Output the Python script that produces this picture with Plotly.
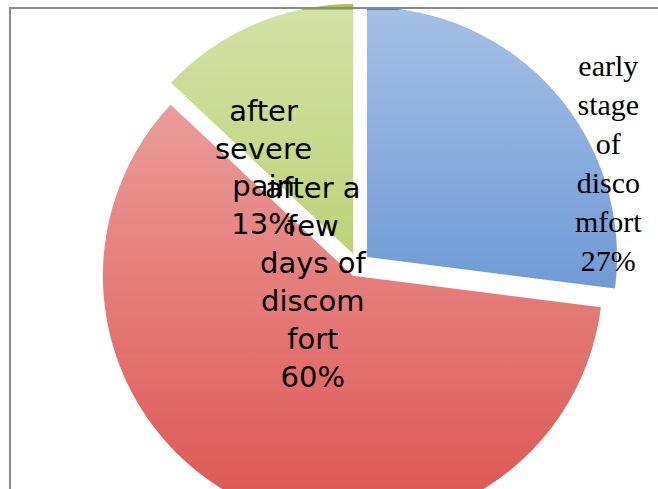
import base64
import plotly.graph_objects as go

# ---- data ----
labels = ["early stage of discomfort", "after a few days of discomfort", "after severe pain"]
values = [27, 60, 13]
label_lines = [["early", "stage", "of", "disco", "mfort"],
               ["after a", "few", "days of", "discom", "fort"],
               ["after", "severe", "pain"]]
colors = ["#4a80cc", "#de5a56", "#a8c44c"]

# ---- layout geometry (page pixels) ----
W, H, VIEW_H = 658, 530, 489
box_l, box_r = 96, 620

fig = go.Figure(go.Pie(
    labels=labels, values=values, sort=False, direction="clockwise", rotation=0,
    pull=[0.048] * len(values),
    marker=dict(colors=colors, line=dict(width=0)),
    textinfo="none", hoverinfo="skip",
    domain=dict(x=[box_l / W, box_r / W], y=[0, 1]),
))

total = sum(values)
ann_pos = [(608, 163, "Liberation Serif", 30),
           (313, 282, "DejaVu Sans", 29),
           (263, 167, "DejaVu Sans", 29)]
for lines, v, (px, py, fam, sz) in zip(label_lines, values, ann_pos):
    pct = round(100 * v / total)
    fig.add_annotation(
        text="<br>".join(lines + [f"{pct}%"]),
        x=px / W, y=1 - py / H, xref="paper", yref="paper",
        xanchor="center", yanchor="middle", showarrow=False,
        font=dict(family=fam, size=sz, color="black"), align="center",
    )

# soft vertical light gradient (imitates the shaded fill of the original)
svg = ('<svg xmlns="http://www.w3.org/2000/svg" width="100" height="100" '
       'viewBox="0 0 100 100" preserveAspectRatio="none"><defs>'
       '<linearGradient id="g" x1="0" y1="0" x2="0" y2="1">'
       '<stop offset="0" stop-color="white" stop-opacity="0.5"/>'
       '<stop offset="1" stop-color="white" stop-opacity="0"/>'
       '</linearGradient></defs><rect width="100" height="100" fill="url(#g)"/></svg>')
src = "data:image/svg+xml;base64," + base64.b64encode(svg.encode()).decode()
fig.add_layout_image(source=src, xref="paper", yref="paper",
                     x=12 / W, y=1 - 10 / H, sizex=1 - 12 / W, sizey=(VIEW_H - 10) / H,
                     xanchor="left", yanchor="top", sizing="stretch", layer="above")

fig.add_shape(type="rect", xref="paper", yref="paper",
              x0=10 / W, x1=1.05, y0=-0.2, y1=1 - 8 / H,
              line=dict(color="#8a8a8a", width=2), fillcolor="rgba(0,0,0,0)", layer="above")

fig.update_layout(width=W, height=H, margin=dict(l=0, r=0, t=0, b=0),
                  paper_bgcolor="white", plot_bgcolor="white", showlegend=False)

fig.write_html("out.html", config={"displayModeBar": False}, post_script=(
    "document.body.style.margin='0';"
    "document.body.style.overflow='hidden';"
    "document.documentElement.style.overflow='hidden';"))
